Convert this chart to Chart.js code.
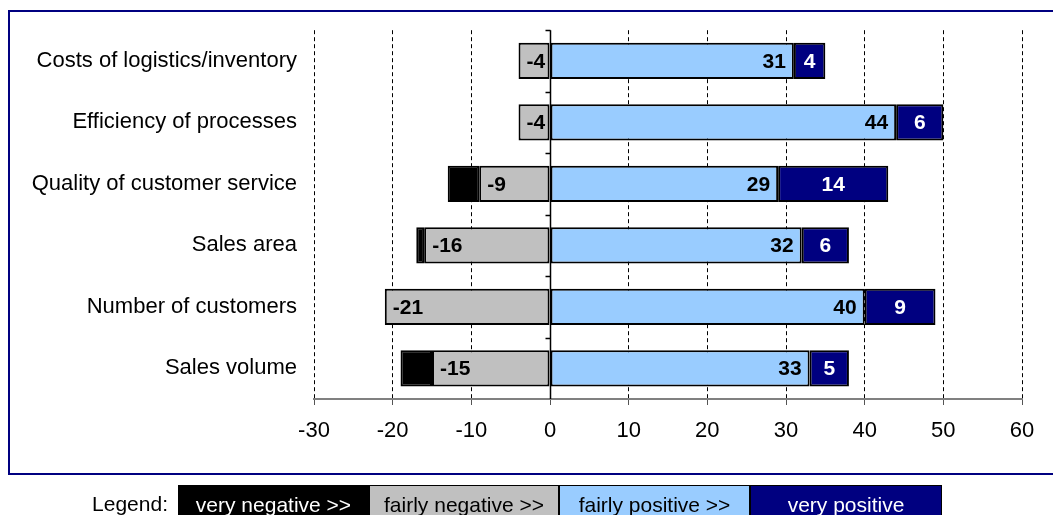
<!DOCTYPE html>
<html lang="en">

<head>
    <meta charset="UTF-8">
    <title>Impact assessment</title>
    <style>
        body {
            margin: 0;
            padding: 0;
            background-color: #fff;
            font-family: 'Liberation Sans', Arial, sans-serif;
            overflow: hidden;
        }

        #wrap {
            position: relative;
            width: 1053px;
            height: 515px;
        }

        #frame {
            position: absolute;
            left: 8px;
            top: 10px;
            width: 1100px;
            height: 461px;
            border: 2px solid #000080;
        }

        #impact-chart {
            position: absolute;
            left: 0;
            top: 0;
        }

        #legend {
            position: absolute;
            left: 0;
            top: 485px;
            height: 40px;
            display: flex;
            font-size: 21px;
        }

        #legend .caption {
            width: 168px;
            text-align: right;
            padding-right: 10px;
            line-height: 38px;
        }

        #legend .key {
            text-align: center;
            line-height: 38px;
            box-sizing: border-box;
            border: 1px solid #000;
            border-bottom: none;
        }
    </style>
</head>

<body>
    <div id="wrap">
        <div id="frame"></div>
        <canvas id="impact-chart" width="1053" height="515"></canvas>
        <div id="legend"></div>
    </div>

    <script src="https://cdn.jsdelivr.net/npm/chart.js"></script>
    <script>
        const categories = [
            'Costs of logistics/inventory',
            'Efficiency of processes',
            'Quality of customer service',
            'Sales area',
            'Number of customers',
            'Sales volume'
        ];
        const veryNegative = [null, null, -4, -1, null, -4];
        const fairlyNegative = [-4, -4, -9, -16, -21, -15];
        const fairlyPositive = [31, 44, 29, 32, 40, 33];
        const veryPositive = [4, 6, 14, 6, 9, 5];

        const xMin = -30;
        const xMax = 60;
        const xStep = 10;

        const legendLabels = ['very negative >>', 'fairly negative >>', 'fairly positive >>', 'very positive'];
        const legendColors = ['#000000', '#C0C0C0', '#99CCFF', '#000080'];
        const legendText = ['#fff', '#000', '#000', '#fff'];
        const legendWidths = [191, 190, 191, 192];

        const FONT = "'Liberation Sans', Arial, sans-serif";

        // legend strip under the frame
        const legend = document.getElementById('legend');
        const caption = document.createElement('div');
        caption.className = 'caption';
        caption.textContent = 'Legend:';
        legend.appendChild(caption);
        legendLabels.forEach((text, i) => {
            const key = document.createElement('div');
            key.className = 'key';
            key.style.width = legendWidths[i] + 'px';
            key.style.background = legendColors[i];
            key.style.color = legendText[i];
            key.textContent = text;
            legend.appendChild(key);
        });

        // solid zero line with small ticks between categories
        const zeroAxis = {
            id: 'zeroAxis',
            afterDatasetsDraw(chart) {
                const { ctx, chartArea, scales } = chart;
                const x0 = Math.round(scales.x.getPixelForValue(0)) + 0.5;
                ctx.save();
                ctx.strokeStyle = '#000';
                ctx.lineWidth = 1.5;
                ctx.beginPath();
                ctx.moveTo(x0, chartArea.top);
                ctx.lineTo(x0, chartArea.bottom);
                const step = (chartArea.bottom - chartArea.top) / categories.length;
                for (let i = 0; i < categories.length; i++) {
                    const yy = Math.round(chartArea.top + i * step) + 0.5;
                    ctx.moveTo(x0 - 5, yy);
                    ctx.lineTo(x0, yy);
                }
                ctx.stroke();
                ctx.restore();
            }
        };

        // value labels inside the segments
        const segmentLabels = {
            id: 'segmentLabels',
            afterDatasetsDraw(chart) {
                const { ctx } = chart;
                ctx.save();
                ctx.font = 'bold 21px ' + FONT;
                ctx.textBaseline = 'middle';
                chart.data.datasets.forEach((ds, di) => {
                    if (!ds.labelMode) return;
                    const meta = chart.getDatasetMeta(di);
                    meta.data.forEach((bar, i) => {
                        const v = ds.data[i];
                        if (v === null || v === undefined) return;
                        const left = Math.min(bar.x, bar.base);
                        const right = Math.max(bar.x, bar.base);
                        ctx.fillStyle = ds.labelColor;
                        if (ds.labelMode === 'start') {
                            ctx.textAlign = 'left';
                            ctx.fillText(String(v), left + 8, bar.y + 1);
                        } else if (ds.labelMode === 'end') {
                            ctx.textAlign = 'right';
                            ctx.fillText(String(v), right - 8, bar.y + 1);
                        } else {
                            ctx.textAlign = 'center';
                            ctx.fillText(String(v), (left + right) / 2, bar.y + 1);
                        }
                    });
                });
                ctx.restore();
            }
        };

        const barStyle = {
            borderColor: '#000',
            borderWidth: 2,
            borderSkipped: false,
            barPercentage: 0.59,
            categoryPercentage: 1.0
        };

        new Chart(document.getElementById('impact-chart'), {
            type: 'bar',
            data: {
                labels: categories,
                datasets: [
                    Object.assign({ label: 'fairly negative', data: fairlyNegative, backgroundColor: '#C0C0C0', labelMode: 'start', labelColor: '#000' }, barStyle),
                    Object.assign({ label: 'very negative', data: veryNegative, backgroundColor: '#000000' }, barStyle),
                    Object.assign({ label: 'fairly positive', data: fairlyPositive, backgroundColor: '#99CCFF', labelMode: 'end', labelColor: '#000' }, barStyle),
                    Object.assign({ label: 'very positive', data: veryPositive, backgroundColor: '#000080', labelMode: 'center', labelColor: '#fff' }, barStyle)
                ]
            },
            options: {
                indexAxis: 'y',
                responsive: false,
                animation: false,
                layout: {
                    padding: { left: 0, right: 31, top: 30, bottom: 76 }
                },
                plugins: {
                    legend: { display: false },
                    tooltip: { enabled: false }
                },
                scales: {
                    x: {
                        stacked: true,
                        min: xMin,
                        max: xMax,
                        afterFit(scale) {
                            scale.height = 40;
                        },
                        ticks: {
                            stepSize: xStep,
                            color: '#000',
                            padding: 13,
                            font: { family: FONT, size: 22 }
                        },
                        grid: {
                            color: ctx => (ctx.tick && ctx.tick.value === 0) ? 'rgba(0,0,0,0)' : '#000',
                            lineWidth: 1,
                            tickLength: 6,
                            tickColor: '#555',
                            tickBorderDash: []
                        },
                        border: {
                            color: '#808080',
                            width: 2,
                            dash: [4, 3]
                        }
                    },
                    y: {
                        stacked: true,
                        afterFit(scale) {
                            scale.width = 314;
                        },
                        ticks: {
                            color: '#000',
                            padding: 17,
                            font: { family: FONT, size: 22 }
                        },
                        grid: { display: false, drawTicks: false },
                        border: { display: false }
                    }
                }
            },
            plugins: [zeroAxis, segmentLabels]
        });
    </script>
</body>

</html>
